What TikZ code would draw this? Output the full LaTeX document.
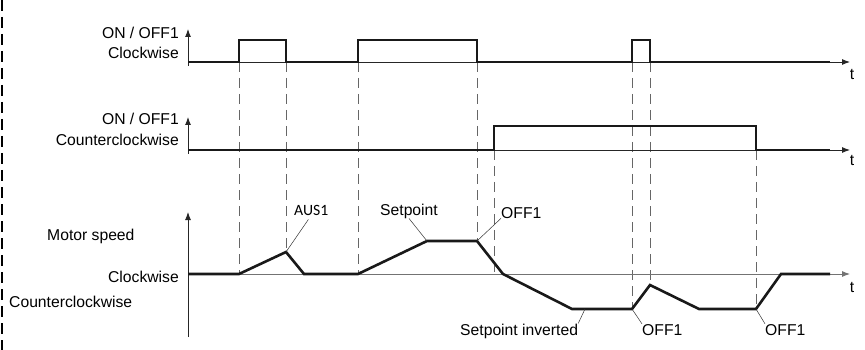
\documentclass[tikz,border=0pt]{standalone}
\usepackage{fontspec}
\setmainfont{Liberation Sans}
\newfontfamily\carlito{Carlito}
\usetikzlibrary{arrows.meta}
\tikzset{
 sig/.style={line width=2.6pt, black!90},
 axis/.style={line width=0.9pt, black!85, -{Latex[length=8pt,width=6pt]}},
 guide/.style={line width=0.8pt, black!60, dash pattern=on 10pt off 6pt},
 leader/.style={line width=0.5pt, black!80},
 lbl/.style={inner sep=0pt, font=\fontsize{15.7}{18}\selectfont},
}
\begin{document}
\begin{tikzpicture}[x=1pt,y=-1pt]
 \useasboundingbox (0,0) rectangle (865,350);
 % left border
 \draw[line width=2.2pt, dash pattern=on 11pt off 6pt] (2,0) -- (2,350);
 % guide lines
 \draw[guide] (239,62) -- (239,274);
 \draw[guide] (286,62) -- (286,252);
 \draw[guide] (358,62) -- (358,274);
 \draw[guide] (477,62) -- (477,241);
 \draw[guide] (494,150) -- (494,274);
 \draw[guide] (632,62) -- (632,309);
 \draw[guide] (650,62) -- (650,285);
 \draw[guide] (756,150) -- (756,309);
 % ON/OFF1 clockwise
 \draw[axis] (188,66) -- (188,29);
 \draw[axis] (188,62) -- (850,62);
 \draw[sig] (188,62) -- (239,62) -- (239,40) -- (286,40) -- (286,62) -- (358,62) -- (358,40) -- (477,40) -- (477,62)
   -- (632,62) -- (632,40) -- (650,40) -- (650,62) -- (830,62);
 \node[lbl, anchor=base east] (onA) at (179,38.5) {ON / OFF1};
 \node[lbl, anchor=base east] (cwA) at (179,59) {Clockwise};
 \node[lbl, anchor=base] (tA) at (852,80) {t};
 % ON/OFF1 counterclockwise
 \draw[axis] (188,154) -- (188,117);
 \draw[axis] (188,150) -- (850,150);
 \draw[sig] (188,150) -- (494,150) -- (494,126) -- (756,126) -- (756,150) -- (830,150);
 \node[lbl, anchor=base east] (onB) at (179,125) {ON / OFF1};
 \node[lbl, anchor=base east] (ccwB) at (179,146) {Counterclockwise};
 \node[lbl, anchor=base] (tB) at (852,165) {t};
 % motor speed
 \draw[axis] (188,337) -- (188,212);
 \draw[axis, black!55] (188,274) -- (850,274);
 \draw[sig] (188,274) -- (239,274) -- (286,252) -- (304,274) -- (358,274) -- (427,241) -- (477,241) -- (503,274)
   -- (572,309) -- (632,309) -- (650,285) -- (699,309) -- (756,309) -- (781,274) -- (830,274);
 \coordinate (aus) at (286,252);
 \coordinate (set) at (427,241);
 \coordinate (off) at (477,241);
 \coordinate (inv) at (585,309);
 \coordinate (offa) at (632,309);
 \coordinate (offb) at (756,309);
 \node[lbl, anchor=base west] (motor) at (47,240) {Motor speed};
 \node[lbl, anchor=base east] (cwC) at (179,282) {Clockwise};
 \node[lbl, anchor=base west] (ccwC) at (9,307) {Counterclockwise};
 \node[lbl, anchor=base] (tC) at (852,292) {t};
 \node[lbl, anchor=base west, font=\carlito\fontsize{15.7}{18}\selectfont] (lAus) at (294,215) {AUS1};
 \node[lbl, anchor=base west] (lSet) at (380,215) {Setpoint};
 \node[lbl, anchor=base west] (lOff) at (501,218) {OFF1};
 \node[lbl, anchor=base west] (lInv) at (460,335) {Setpoint inverted};
 \node[lbl, anchor=base west] (lOffa) at (642,335) {OFF1};
 \node[lbl, anchor=base west] (lOffb) at (765,335) {OFF1};
 \draw[leader, shorten >=5pt] (aus) -- (lAus.south);
 \draw[leader] (set) -- (lSet.south);
 \draw[leader] (off) -- (lOff.south west);
 \draw[leader] (inv) -- (lInv.north east);
 \draw[leader] (offa) -- (lOffa.north west);
 \draw[leader] (offb) -- (lOffb.north west);
\end{tikzpicture}
\end{document}
